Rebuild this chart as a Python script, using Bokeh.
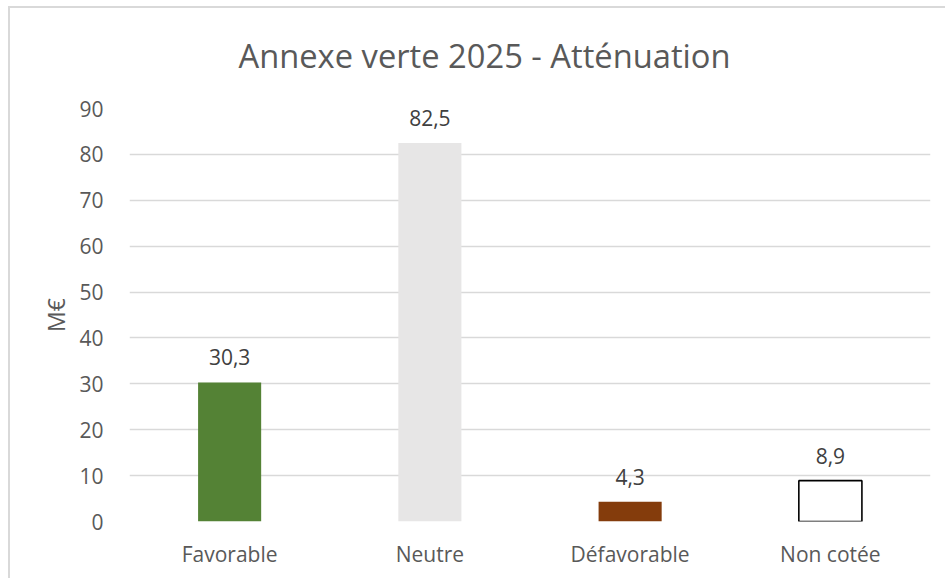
from bokeh.plotting import figure
from bokeh.models import ColumnDataSource, LabelSet, Range1d, SingleIntervalTicker
from bokeh.core.properties import value
from bokeh.embed import file_html
from bokeh.resources import INLINE

categories = ["Favorable", "Neutre", "Défavorable", "Non cotée"]
values = [30.3, 82.5, 4.3, 8.9]
fill_colors = ["#548235", "#E7E6E6", "#843C0C", "#FFFFFF"]
line_colors = ["#548235", "#E7E6E6", "#843C0C", "#000000"]
line_widths = [0, 0, 0, 1.6]
title_text = "Annexe verte 2025 - Atténuation"
y_label = "M€"

labels = [f"{v:.1f}".replace(".", ",") for v in values]
src = ColumnDataSource(dict(cat=categories, val=values, fill=fill_colors,
                            line=line_colors, lw=line_widths, lab=labels))

FONT = "Open Sans"
p = figure(x_range=categories, y_range=Range1d(0, 90), width=945, height=578,
           output_backend="svg", toolbar_location=None,
           min_border_left=129, min_border_right=15, min_border_top=107, min_border_bottom=57)

p.vbar(x="cat", top="val", width=0.315, source=src, fill_color="fill",
       line_color="line", line_width="lw")

p.add_layout(LabelSet(x="cat", y="val", text="lab", source=src, y_offset=17,
                      text_align="center", text_baseline="alphabetic",
                      text_font=value(FONT), text_font_size="21px", text_color="#404040"))

p.title.text = title_text
p.title.align = "left"
p.title.offset = 109
p.title.standoff = 61
p.title.text_font = FONT
p.title.text_font_size = "32.7px"
p.title.text_font_style = "normal"
p.title.text_color = "#595959"

p.outline_line_color = None
p.background_fill_color = "white"
p.border_fill_color = None

p.xgrid.grid_line_color = None
p.ygrid.grid_line_color = "#D9D9D9"
p.ygrid.grid_line_width = 1.3

p.yaxis.ticker = SingleIntervalTicker(interval=10)
p.yaxis.axis_line_color = None
p.yaxis.major_tick_line_color = None
p.yaxis.minor_tick_line_color = None
p.yaxis.major_tick_out = 0
p.yaxis.major_tick_in = 0
p.yaxis.major_label_standoff = 22
p.yaxis.major_label_text_font = FONT
p.yaxis.major_label_text_font_size = "21px"
p.yaxis.major_label_text_color = "#595959"
p.yaxis.axis_label = y_label
p.yaxis.axis_label_standoff = 4
p.yaxis.axis_label_text_font = FONT
p.yaxis.axis_label_text_font_size = "23px"
p.yaxis.axis_label_text_font_style = "normal"
p.yaxis.axis_label_text_color = "#595959"

p.xaxis.axis_line_color = None
p.xaxis.major_tick_line_color = None
p.xaxis.minor_tick_line_color = None
p.xaxis.major_tick_out = 0
p.xaxis.major_tick_in = 0
p.xaxis.major_label_standoff = 18
p.xaxis.major_label_text_font = FONT
p.xaxis.major_label_text_font_size = "21px"
p.xaxis.major_label_text_color = "#595959"

p.styles = {
    "background": "linear-gradient(#D9D9D9, #D9D9D9) 8px 6px / 100% 2px no-repeat, "
                  "linear-gradient(#D9D9D9, #D9D9D9) 8px 6px / 2px 100% no-repeat, white"
}

open("out.html", "w").write(file_html(p, INLINE))
